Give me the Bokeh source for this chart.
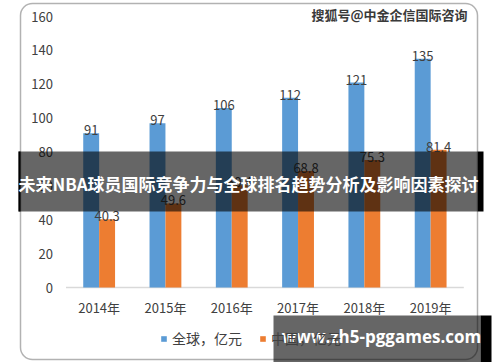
from bokeh.plotting import figure
from bokeh.models import (ColumnDataSource, BoxAnnotation, Label,
                          Legend, LegendItem, Range1d)
from bokeh.core.properties import value
from bokeh.embed import file_html
from bokeh.resources import INLINE

# ---- data ----
years = ["2014年", "2015年", "2016年", "2017年", "2018年", "2019年"]
global_vals = [91, 97, 106, 112, 121, 135]
china_vals = [40.3, 49.6, 60.4, 68.8, 75.3, 81.4]
global_labels = ["91", "97", "106", "112", "121", "135"]
china_labels = ["40.3", "49.6", "60.4", "68.8", "75.3", "81.4"]
y_ticks = [0, 20, 40, 60, 80, 100, 120, 140, 160]
y_tick_labels = ["0", "20", "40", "60", "80", "100", "120", "140", "160"]
series_names = ["全球，亿元", "中国，亿元"]
title_text = "未来NBA球员国际竞争力与全球排名趋势分析及影响因素探讨"
top_mark = "搜狐号@中金企信国际咨询"
bottom_mark = "www.zh5-pggames.com"

FONT = "Noto Sans CJK SC"
BLUE = "#5B9BD5"
ORANGE = "#ED7D31"
TXT = "#404040"

# ---- layout (canvas pixels) ----
W, H = 500, 362
AREA_L, AREA_R = 65.5, 463.3      # pixel span of the 6 categories
BASE_PX, TOP_PX = 287.0, 16.0     # pixel rows of y=0 and y=160
YMAX = 160
n = len(years)
px_per_cat = (AREA_R - AREA_L) / n
px_per_unit = (BASE_PX - TOP_PX) / YMAX
x_start = -AREA_L / px_per_cat
x_end = x_start + W / px_per_cat
y_end = BASE_PX / px_per_unit
y_start = -(H - BASE_PX) / px_per_unit

centers = [i + 0.5 for i in range(n)]
BAR_W = 0.24
src = ColumnDataSource(dict(
    xc=centers,
    xg=[c - BAR_W / 2 for c in centers],
    xo=[c + BAR_W / 2 for c in centers],
    year=years, g=global_vals, c=china_vals, gl=global_labels, cl=china_labels))
tick_src = ColumnDataSource(dict(y=y_ticks, t=y_tick_labels, x=[0] * len(y_ticks)))

p = figure(width=W, height=H, x_range=Range1d(x_start, x_end), y_range=Range1d(y_start, y_end),
           output_backend="svg", toolbar_location=None,
           x_axis_location=None, y_axis_location=None, min_border=0)
p.outline_line_color = None
p.xgrid.grid_line_color = None
p.ygrid.grid_line_color = None
p.background_fill_color = "white"
p.border_fill_color = "white"

# baseline
p.segment(x0=0, x1=n, y0=0, y1=0, line_color="#D9D9D9", line_width=1.5)

r1 = p.vbar(x="xg", top="g", width=BAR_W, source=src, fill_color=BLUE, line_color=None)
r2 = p.vbar(x="xo", top="c", width=BAR_W, source=src, fill_color=ORANGE, line_color=None)

# value labels
p.text(x="xg", y="g", text="gl", source=src, text_align="center", text_baseline="alphabetic",
       y_offset=-3, text_font=value(FONT), text_font_size="13px", text_color=TXT)
p.text(x="xo", y="c", text="cl", source=src, text_align="center", text_baseline="alphabetic",
       y_offset=-3, text_font=value(FONT), text_font_size="13px", text_color=TXT)

# category labels (x axis)
p.text(x="xc", y=0, text="year", source=src, text_align="center", text_baseline="middle",
       y_offset=20, text_font=value(FONT), text_font_size="13px", text_color=TXT)
# value ticks (y axis)
p.text(x="x", y="y", text="t", source=tick_src, text_align="right", text_baseline="middle",
       x_offset=-13, text_font=value(FONT), text_font_size="13px", text_color=TXT)

# legend
legend = Legend(items=[LegendItem(label=series_names[0], renderers=[r1]),
                       LegendItem(label=series_names[1], renderers=[r2])],
                orientation="horizontal", location=(160, 14),
                border_line_color=None, background_fill_alpha=0,
                padding=0, margin=0, spacing=17, label_standoff=5,
                glyph_width=7, glyph_height=7,
                label_text_font=FONT, label_text_font_size="14px",
                label_text_color=TXT)
p.add_layout(legend)


def cbox(l, r, t, b, **kw):
    return BoxAnnotation(left=l, right=r, top=t, bottom=b,
                         left_units="canvas", right_units="canvas",
                         top_units="canvas", bottom_units="canvas", **kw)


# rounded frame around the whole chart
p.add_layout(cbox(20, 477, 3, 359, fill_alpha=0, line_color="black", line_width=1.5,
                  border_radius=12))

# top watermark
p.add_layout(Label(x=467, y=14, x_units="canvas", y_units="canvas", text=top_mark,
                   text_align="right", text_baseline="middle", text_font=FONT,
                   text_font_size="13px", text_font_style="bold", text_color="#3a3a3a"))

# banner
p.add_layout(cbox(18, 477, 151, 211, fill_color="black", fill_alpha=0.6, line_color=None))
p.add_layout(cbox(18, 20, 151, 211, fill_color="black", fill_alpha=1, line_color=None))
p.add_layout(cbox(477, 483, 151, 211, fill_color="black", fill_alpha=1, line_color=None))
p.add_layout(Label(x=248, y=183, x_units="canvas", y_units="canvas", text=title_text,
                   text_align="center", text_baseline="middle", text_font=FONT,
                   text_font_size="17px", text_font_style="bold", text_color="white"))

# bottom watermark
p.add_layout(cbox(273, 480, 315, 362, fill_color="black", fill_alpha=0.6, line_color=None))
p.add_layout(cbox(480, 491, 315, 362, fill_color="black", fill_alpha=1, line_color=None))
p.add_layout(Label(x=381, y=336, x_units="canvas", y_units="canvas", text=bottom_mark,
                   text_align="center", text_baseline="middle", text_font="Open Sans",
                   text_font_size="17px", text_font_style="bold", text_color="white"))

open("out.html", "w").write(file_html(p, INLINE))
